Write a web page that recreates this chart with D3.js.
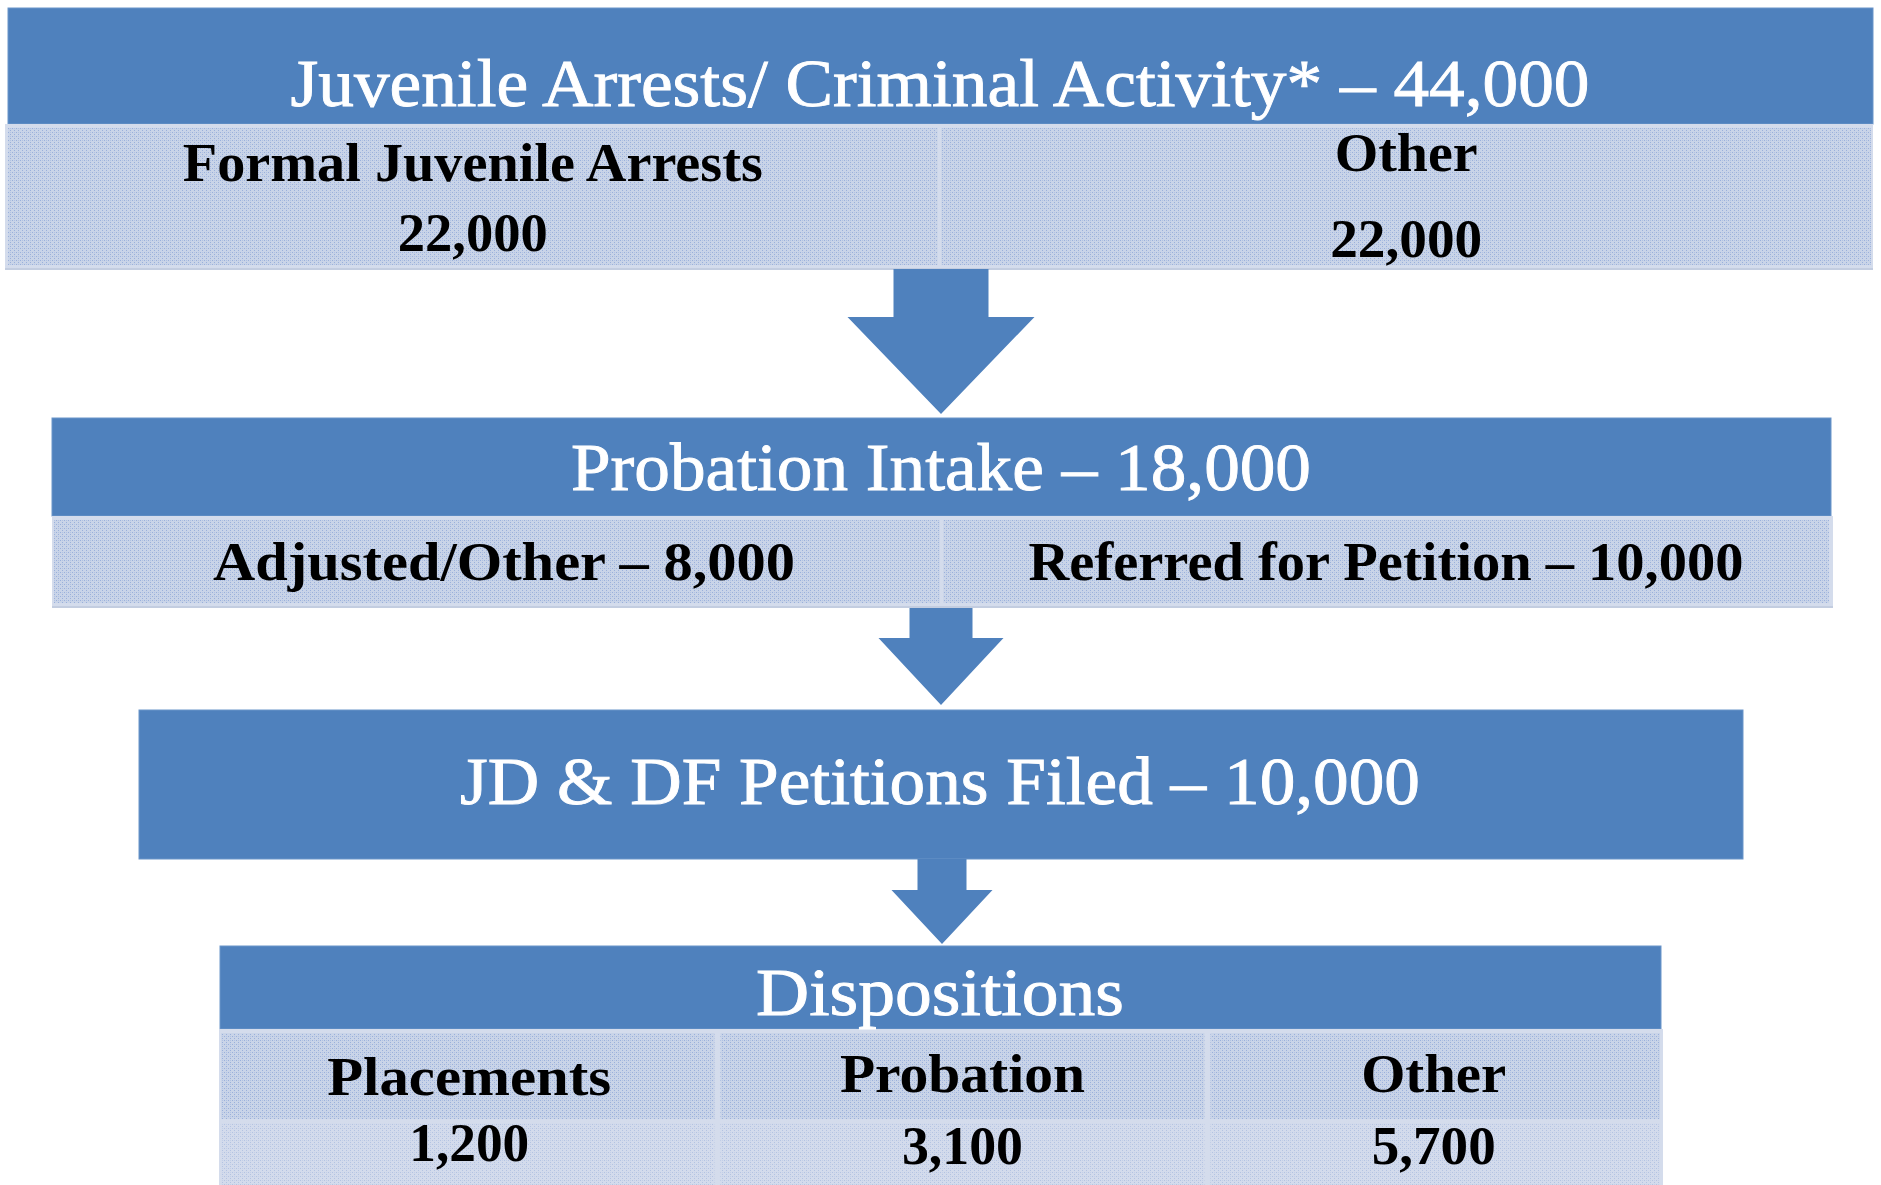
<!DOCTYPE html>
<html>
<head>
<meta charset="utf-8">
<script src="https://cdn.jsdelivr.net/npm/d3@7"></script>
<style>
html,body{margin:0;padding:0;background:#fff;}
svg{display:block;}
</style>
</head>
<body>
<div id="chart"></div>
<script>
// ---------------- data ----------------
const stageNames = ["Juvenile Arrests/ Criminal Activity*", "Probation Intake", "JD & DF Petitions Filed", "Dispositions"];
const stageTotals = [44000, 18000, 10000, null];
const arrestCategories = ["Formal Juvenile Arrests", "Other"];
const arrestValues = [22000, 22000];
const intakeCategories = ["Adjusted/Other", "Referred for Petition"];
const intakeValues = [8000, 10000];
const dispositionCategories = ["Placements", "Probation", "Other"];
const dispositionValues = [1200, 3100, 5700];

// ---------------- layout ----------------
const W = 1881, H = 1185;
const BLUE = "#4f81bd";
const fmt = d3.format(",");
const DASH = " \u2013 ";
const svg = d3.select("#chart").append("svg").attr("width", W).attr("height", H);
svg.append("rect").attr("width", W).attr("height", H).attr("fill", "#fff");

const defs = svg.append("defs");
function makePattern(id, bg, dot) {
  const p = defs.append("pattern").attr("id", id).attr("width", 4).attr("height", 4)
    .attr("patternUnits", "userSpaceOnUse");
  p.append("rect").attr("width", 4).attr("height", 4).attr("fill", bg);
  p.append("rect").attr("x", 0).attr("y", 0).attr("width", 1).attr("height", 1).attr("fill", dot);
  p.append("rect").attr("x", 2).attr("y", 2).attr("width", 1).attr("height", 1).attr("fill", dot);
  p.append("rect").attr("x", 2).attr("y", 0).attr("width", 1).attr("height", 1).attr("fill", dot).attr("opacity", 0.5);
}
makePattern("tex", "#c9d4e8", "#9ab0db");
makePattern("tex2", "#d3dbec", "#b3c3e2");

const serif = "'Liberation Serif', 'Times New Roman', serif";

function label(x, y, text, size, width, color, bold) {
  const t = svg.append("text")
    .attr("x", x).attr("y", y)
    .attr("text-anchor", "middle")
    .attr("font-family", serif)
    .attr("font-size", size)
    .attr("font-weight", bold ? "bold" : "normal")
    .attr("fill", color)
    .text(text);
  if (!bold) t.attr("stroke", color).attr("stroke-width", 0.9);
  if (width) t.attr("textLength", width).attr("lengthAdjust", "spacingAndGlyphs");
  return t;
}

function header(x0, x1, y0, y1) {
  svg.append("rect").attr("x", x0).attr("y", y0).attr("width", x1 - x0).attr("height", y1 - y0)
    .attr("fill", BLUE).attr("stroke", "#6b95c9").attr("stroke-width", 1);
}

function band(x0, x1, y0, y1) {
  svg.append("rect").attr("x", x0).attr("y", y0 + 2).attr("width", x1 - x0).attr("height", y1 - y0)
    .attr("fill", "#c3cde0");
  svg.append("rect").attr("x", x0).attr("y", y0).attr("width", x1 - x0).attr("height", y1 - y0)
    .attr("fill", "#d4dcec");
}

function cells(xScale, keys, y0, y1, fill) {
  svg.selectAll(null).data(keys).enter().append("rect")
    .attr("x", d => xScale(d))
    .attr("y", y0)
    .attr("width", d => xScale.bandwidth ? xScale.bandwidth() : 0)
    .attr("height", y1 - y0)
    .attr("fill", fill);
}

function arrow(cx, shaftW, headW, yTop, yHead, yTip) {
  const p = d3.path();
  p.moveTo(cx - shaftW / 2, yTop);
  p.lineTo(cx + shaftW / 2, yTop);
  p.lineTo(cx + shaftW / 2, yHead);
  p.lineTo(cx + headW / 2, yHead);
  p.lineTo(cx, yTip);
  p.lineTo(cx - headW / 2, yHead);
  p.lineTo(cx - shaftW / 2, yHead);
  p.closePath();
  svg.append("path").attr("d", p.toString()).attr("fill", BLUE);
}

// ---- Stage 1: arrests ----
header(8, 1873, 8, 124);
band(5, 1873, 124, 268);
const x1 = d3.scaleBand().domain(arrestCategories).range([8, 1871]).paddingInner(0.004);
cells(x1, arrestCategories, 128, 265, "url(#tex)");
label(940, 106, stageNames[0] + DASH + fmt(stageTotals[0]), 68, 1299, "#fff", false);
label(x1(arrestCategories[0]) + x1.bandwidth() / 2, 181, arrestCategories[0], 54, 580, "#000", true);
label(x1(arrestCategories[0]) + x1.bandwidth() / 2, 251, fmt(arrestValues[0]), 54, 150, "#000", true);
label(x1(arrestCategories[1]) + x1.bandwidth() / 2, 171, arrestCategories[1], 54, 143, "#000", true);
label(x1(arrestCategories[1]) + x1.bandwidth() / 2, 257, fmt(arrestValues[1]), 54, 152, "#000", true);

arrow(941, 95, 187, 269, 317, 414);

// ---- Stage 2: intake ----
header(52, 1831, 418, 516);
band(52, 1833, 516, 606);
const x2 = d3.scaleBand().domain(intakeCategories).range([54, 1829]).paddingInner(0.004);
cells(x2, intakeCategories, 520, 603, "url(#tex)");
label(941, 490, stageNames[1] + DASH + fmt(stageTotals[1]), 68, 740, "#fff", false);
label(504, 580, intakeCategories[0] + DASH + fmt(intakeValues[0]), 54, 582, "#000", true);
label(1386, 580, intakeCategories[1] + DASH + fmt(intakeValues[1]), 54, 715, "#000", true);

arrow(941, 63, 125, 608, 638, 705);

// ---- Stage 3: petitions ----
header(139, 1743, 710, 859);
label(940, 804, stageNames[2] + DASH + fmt(stageTotals[2]), 68, 960, "#fff", false);

arrow(942, 49, 101, 859, 890, 944);

// ---- Stage 4: dispositions ----
header(220, 1661, 946, 1029);
band(219, 1663, 1029, 1185);
const colWeights = [0.345, 0.3405, 0.3145];
const edges = d3.cumsum([0].concat(colWeights));
const xs = d3.scaleLinear().domain([0, 1]).range([221, 1660]);
const x4 = (i) => xs(edges[i]);
dispositionCategories.forEach((c, i) => {
  const a = x4(i) + (i ? 3 : 0), b = x4(i + 1) - (i < 2 ? 3 : 0);
  svg.append("rect").attr("x", a).attr("y", 1033).attr("width", b - a).attr("height", 86).attr("fill", "url(#tex)");
  svg.append("rect").attr("x", a).attr("y", 1123).attr("width", b - a).attr("height", 62).attr("fill", "url(#tex2)");
});
label(940, 1015, stageNames[3], 68, 368, "#fff", false);
const dispLabelW = [284, 245, 145];
const dispValW = [120, 121, 124];
const dispLabelY = [1095, 1092, 1092];
const dispValY = [1161, 1164, 1164];
dispositionCategories.forEach((c, i) => {
  const cx = (x4(i) + x4(i + 1)) / 2;
  label(cx, dispLabelY[i], c, 54, dispLabelW[i], "#000", true);
  label(cx, dispValY[i], fmt(dispositionValues[i]), 54, dispValW[i], "#000", true);
});
</script>
</body>
</html>
